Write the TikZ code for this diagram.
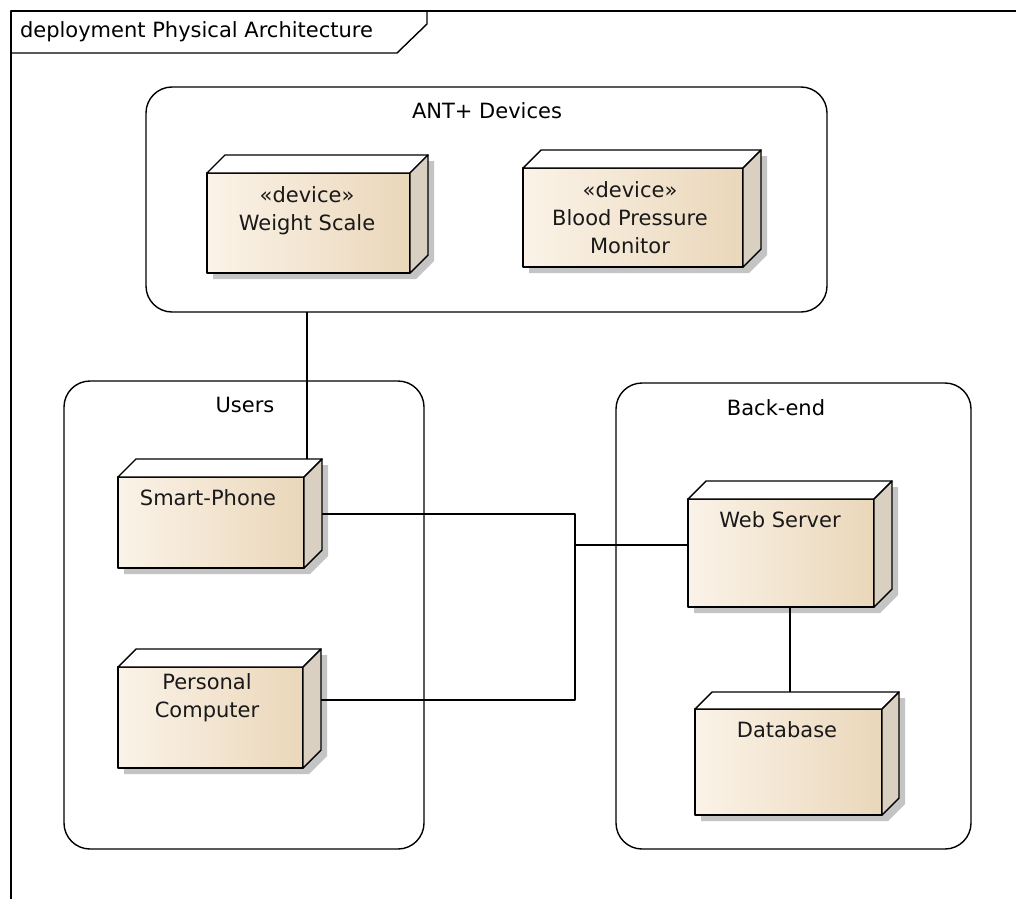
\documentclass[tikz,border=0pt]{standalone}
\usepackage{fontspec}
\setmainfont{DejaVu Sans}
\definecolor{frontL}{HTML}{FBF3E8}
\definecolor{frontR}{HTML}{EAD7BA}
\definecolor{sidec}{HTML}{DAD0C2}
\definecolor{shadowc}{HTML}{C4C4C4}
\newcommand{\devbox}[6]{%
  \fill[shadowc] (#2+6,#3+6) -- (#2+6+#6,#3+6-#6) -- (#4+6+#6,#3+6-#6) -- (#4+6+#6,#5+6-#6) -- (#4+6,#5+6) -- (#2+6,#5+6) -- cycle;
  \node[front, minimum width={#4-#2}, minimum height={#5-#3}] (#1) at ({(#2+#4)/2},{(#3+#5)/2}) {};
  \draw[topf] (#1.north west) -- ++(#6,-#6) -- ++({#4-#2},0) -- (#1.north east) -- cycle;
  \draw[sidef] (#1.north east) -- ++(#6,-#6) -- ++(0,{#5-#3}) -- (#1.south east) -- cycle;
}
\begin{document}
\begin{tikzpicture}[x=1pt,y=-1pt, line width=1.4pt, line join=round,
  every node/.style={font=\fontsize{21}{28}\selectfont, inner sep=0pt, outer sep=0pt},
  front/.style={draw, left color=frontL, right color=frontR, rectangle},
  topf/.style={draw, fill=white},
  sidef/.style={draw, fill=sidec},
  cont/.style={draw, rounded corners=26pt, rectangle},
  txt/.style={align=center, text=black!90}]
\useasboundingbox (0,0) rectangle (1016,899);
\fill[white] (0,0) rectangle (1016,899);
% frame
\draw (11,899) -- (11,11) -- (1016,11);
\draw (11,53) -- (397,53) -- (427,24) -- (427,11);
\node[anchor=west] (title) at (20,32) {deployment Physical Architecture};
% containers
\node[cont, minimum width=681, minimum height=225] (ant) at (486.5,199.5) {};
\node (antl) at (487,111) {ANT+ Devices};
\node[cont, minimum width=360, minimum height=468] (users) at (244,615) {};
\node (usersl) at (245,405) {Users};
\node[cont, minimum width=355, minimum height=466] (back) at (793.5,616) {};
\node (backl) at (776,408) {Back-end};
% devices
\devbox{ws}{207}{173}{410}{273}{18}
\node[txt] (wst) at (307,211) {«device»\\Weight Scale};
\devbox{bpm}{523}{168}{743}{267}{18}
\node[txt] (bpmt) at (630,218) {«device»\\Blood Pressure\\Monitor};
\devbox{sp}{118}{477}{304}{568}{18}
\node[txt] (spt) at (208,498) {Smart-Phone};
\devbox{pc}{118}{667}{303}{768}{18}
\node[txt] (pct) at (207,698) {Personal\\Computer};
\devbox{web}{688}{499}{874}{607}{18}
\node[txt] (webt) at (780,520) {Web Server};
\devbox{db}{695}{709}{882}{815}{17}
\node[txt] (dbt) at (787,730) {Database};
% connectors
\coordinate (spc) at ([shift={(3,-18)}]sp.north east);
\draw (spc) -- (spc |- ant.south);
\coordinate (j) at (575,545);
\draw ([shift={(18,-8.5)}]sp.east) -| (j);
\draw ([shift={(18,-17.5)}]pc.east) -| (j);
\draw (j) -- (j -| web.west);
\draw ([xshift=9]web.south) -- ++(0,85);
\end{tikzpicture}
\end{document}
